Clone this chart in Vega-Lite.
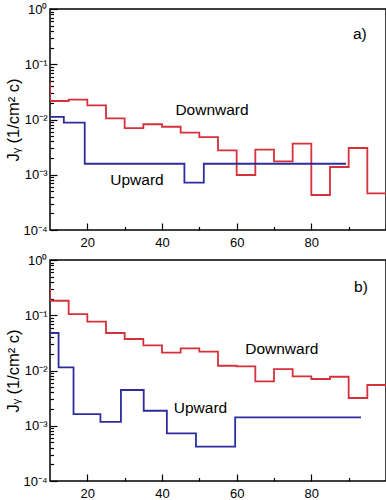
{
  "$schema": "https://vega.github.io/schema/vega-lite/v6.json",
  "padding": {"left": 5, "top": 2, "right": 0, "bottom": 0},
  "background": "white",
  "spacing": 3,
  "config": {
    "view": {"stroke": "black", "strokeWidth": 1.5},
    "font": "Liberation Sans",
    "axis": {"domain": false, "grid": false, "labelFont": "Liberation Sans", "labelFontSize": 13, "labelColor": "black", "tickColor": "black", "tickWidth": 1.2, "titleFont": "Liberation Sans", "titleFontWeight": "normal", "titleColor": "black"}
  },
  "datasets": {
    "lines": [
      {"panel": "a", "dir": "Downward", "x": 5, "J": 0.046},
      {"panel": "a", "dir": "Downward", "x": 10, "J": 0.0216},
      {"panel": "a", "dir": "Downward", "x": 15, "J": 0.0229},
      {"panel": "a", "dir": "Downward", "x": 20, "J": 0.018},
      {"panel": "a", "dir": "Downward", "x": 25, "J": 0.0105},
      {"panel": "a", "dir": "Downward", "x": 30, "J": 0.0070},
      {"panel": "a", "dir": "Downward", "x": 35, "J": 0.0082},
      {"panel": "a", "dir": "Downward", "x": 40, "J": 0.0074},
      {"panel": "a", "dir": "Downward", "x": 45, "J": 0.0058},
      {"panel": "a", "dir": "Downward", "x": 50, "J": 0.0048},
      {"panel": "a", "dir": "Downward", "x": 55, "J": 0.00277},
      {"panel": "a", "dir": "Downward", "x": 60, "J": 0.00099},
      {"panel": "a", "dir": "Downward", "x": 65, "J": 0.00284},
      {"panel": "a", "dir": "Downward", "x": 70, "J": 0.00175},
      {"panel": "a", "dir": "Downward", "x": 75, "J": 0.00365},
      {"panel": "a", "dir": "Downward", "x": 80, "J": 0.00043},
      {"panel": "a", "dir": "Downward", "x": 85, "J": 0.00138},
      {"panel": "a", "dir": "Downward", "x": 90, "J": 0.00305},
      {"panel": "a", "dir": "Downward", "x": 95, "J": 0.00046},
      {"panel": "a", "dir": "Downward", "x": 100, "J": 0.00046},
      {"panel": "a", "dir": "Upward", "x": 10, "J": 0.0112},
      {"panel": "a", "dir": "Upward", "x": 13.7, "J": 0.00875},
      {"panel": "a", "dir": "Upward", "x": 19.3, "J": 0.00158},
      {"panel": "a", "dir": "Upward", "x": 46, "J": 0.00072},
      {"panel": "a", "dir": "Upward", "x": 51.2, "J": 0.00158},
      {"panel": "a", "dir": "Upward", "x": 89.3, "J": 0.00158},
      {"panel": "b", "dir": "Downward", "x": 5, "J": 0.31},
      {"panel": "b", "dir": "Downward", "x": 10, "J": 0.183},
      {"panel": "b", "dir": "Downward", "x": 15, "J": 0.105},
      {"panel": "b", "dir": "Downward", "x": 20, "J": 0.0766},
      {"panel": "b", "dir": "Downward", "x": 25, "J": 0.0477},
      {"panel": "b", "dir": "Downward", "x": 30, "J": 0.0372},
      {"panel": "b", "dir": "Downward", "x": 35, "J": 0.0285},
      {"panel": "b", "dir": "Downward", "x": 40, "J": 0.021},
      {"panel": "b", "dir": "Downward", "x": 45, "J": 0.0251},
      {"panel": "b", "dir": "Downward", "x": 50, "J": 0.0219},
      {"panel": "b", "dir": "Downward", "x": 55, "J": 0.0122},
      {"panel": "b", "dir": "Downward", "x": 60, "J": 0.0119},
      {"panel": "b", "dir": "Downward", "x": 65, "J": 0.00637},
      {"panel": "b", "dir": "Downward", "x": 70, "J": 0.0106},
      {"panel": "b", "dir": "Downward", "x": 75, "J": 0.00785},
      {"panel": "b", "dir": "Downward", "x": 80, "J": 0.00702},
      {"panel": "b", "dir": "Downward", "x": 85, "J": 0.0077},
      {"panel": "b", "dir": "Downward", "x": 90, "J": 0.00318},
      {"panel": "b", "dir": "Downward", "x": 95, "J": 0.00547},
      {"panel": "b", "dir": "Downward", "x": 100, "J": 0.00547},
      {"panel": "b", "dir": "Upward", "x": 10, "J": 0.0477},
      {"panel": "b", "dir": "Upward", "x": 12.3, "J": 0.0114},
      {"panel": "b", "dir": "Upward", "x": 16.3, "J": 0.00163},
      {"panel": "b", "dir": "Upward", "x": 23.5, "J": 0.00118},
      {"panel": "b", "dir": "Upward", "x": 29, "J": 0.00444},
      {"panel": "b", "dir": "Upward", "x": 35.1, "J": 0.00187},
      {"panel": "b", "dir": "Upward", "x": 41.3, "J": 0.00073},
      {"panel": "b", "dir": "Upward", "x": 49.1, "J": 0.00042},
      {"panel": "b", "dir": "Upward", "x": 59.6, "J": 0.00142},
      {"panel": "b", "dir": "Upward", "x": 93.3, "J": 0.00142}
    ],
    "labels": [
      {"panel": "a", "text": "Downward", "x": 53.4, "J": 0.0149},
      {"panel": "a", "text": "Upward", "x": 33.3, "J": 0.0008},
      {"panel": "a", "text": "a)", "x": 93, "J": 0.35},
      {"panel": "b", "text": "Downward", "x": 72.1, "J": 0.025},
      {"panel": "b", "text": "Upward", "x": 50.3, "J": 0.00207},
      {"panel": "b", "text": "b)", "x": 93.3, "J": 0.32}
    ]
  },
  "vconcat": [
    {
      "width": 336,
      "height": 221,
      "resolve": {"axis": {"x": "independent", "y": "independent"}},
      "layer": [
        {
          "data": {"name": "lines"},
          "transform": [{"filter": "datum.panel == 'a'"}],
          "mark": {"type": "line", "interpolate": "step-after", "strokeWidth": 1.8, "clip": true},
          "encoding": {
            "x": {"field": "x", "type": "quantitative", "scale": {"domain": [10, 100], "nice": false, "zero": false}, "axis": {"orient": "bottom", "values": [20, 40, 60, 80], "tickSize": -7, "labelPadding": 13, "title": null}},
            "y": {"field": "J", "type": "quantitative", "scale": {"type": "log", "domain": [0.0001, 1], "nice": false}, "axis": {"orient": "left", "values": [0.0001, 0.001, 0.01, 0.1, 1], "tickSize": -7, "labelPadding": 10, "labelExpr": "['10⁻⁴','10⁻³','10⁻²','10⁻¹','10⁰'][round(log(datum.value)/LN10)+4]", "title": "Jᵧ (1/cm² c)", "titleFontSize": 16.5, "titlePadding": 1}},
            "color": {"field": "dir", "type": "nominal", "scale": {"domain": ["Downward", "Upward"], "range": ["#d5313a", "#2b2d9c"]}, "legend": null}
          }
        },
        {
          "data": {"name": "labels"},
          "transform": [{"filter": "datum.panel == 'a'"}],
          "mark": {"type": "text", "fontSize": 15.5, "color": "black", "align": "center", "baseline": "middle"},
          "encoding": {
            "text": {"field": "text"},
            "x": {"field": "x", "type": "quantitative", "axis": {"orient": "bottom", "values": [30, 50, 70, 90], "tickSize": -3.5, "labels": false, "title": null}},
            "y": {"field": "J", "type": "quantitative", "axis": {"orient": "left", "values": [0.0002,0.0003,0.0004,0.0005,0.0006,0.0007,0.0008,0.0009,0.002,0.003,0.004,0.005,0.006,0.007,0.008,0.009,0.02,0.03,0.04,0.05,0.06,0.07,0.08,0.09,0.2,0.3,0.4,0.5,0.6,0.7,0.8,0.9], "tickSize": -3.5, "labels": false, "title": null}}
          }
        }
      ]
    },
    {
      "width": 336,
      "height": 221,
      "resolve": {"axis": {"x": "independent", "y": "independent"}},
      "layer": [
        {
          "data": {"name": "lines"},
          "transform": [{"filter": "datum.panel == 'b'"}],
          "mark": {"type": "line", "interpolate": "step-after", "strokeWidth": 1.8, "clip": true},
          "encoding": {
            "x": {"field": "x", "type": "quantitative", "scale": {"domain": [10, 100], "nice": false, "zero": false}, "axis": {"orient": "bottom", "values": [20, 40, 60, 80], "tickSize": -7, "labelPadding": 13, "title": null}},
            "y": {"field": "J", "type": "quantitative", "scale": {"type": "log", "domain": [0.0001, 1], "nice": false}, "axis": {"orient": "left", "values": [0.0001, 0.001, 0.01, 0.1, 1], "tickSize": -7, "labelPadding": 10, "labelExpr": "['10⁻⁴','10⁻³','10⁻²','10⁻¹','10⁰'][round(log(datum.value)/LN10)+4]", "title": "Jᵧ (1/cm² c)", "titleFontSize": 16.5, "titlePadding": 1}},
            "color": {"field": "dir", "type": "nominal", "scale": {"domain": ["Downward", "Upward"], "range": ["#d5313a", "#2b2d9c"]}, "legend": null}
          }
        },
        {
          "data": {"name": "labels"},
          "transform": [{"filter": "datum.panel == 'b'"}],
          "mark": {"type": "text", "fontSize": 15.5, "color": "black", "align": "center", "baseline": "middle"},
          "encoding": {
            "text": {"field": "text"},
            "x": {"field": "x", "type": "quantitative", "axis": {"orient": "bottom", "values": [30, 50, 70, 90], "tickSize": -3.5, "labels": false, "title": null}},
            "y": {"field": "J", "type": "quantitative", "axis": {"orient": "left", "values": [0.0002,0.0003,0.0004,0.0005,0.0006,0.0007,0.0008,0.0009,0.002,0.003,0.004,0.005,0.006,0.007,0.008,0.009,0.02,0.03,0.04,0.05,0.06,0.07,0.08,0.09,0.2,0.3,0.4,0.5,0.6,0.7,0.8,0.9], "tickSize": -3.5, "labels": false, "title": null}}
          }
        }
      ]
    }
  ]
}
